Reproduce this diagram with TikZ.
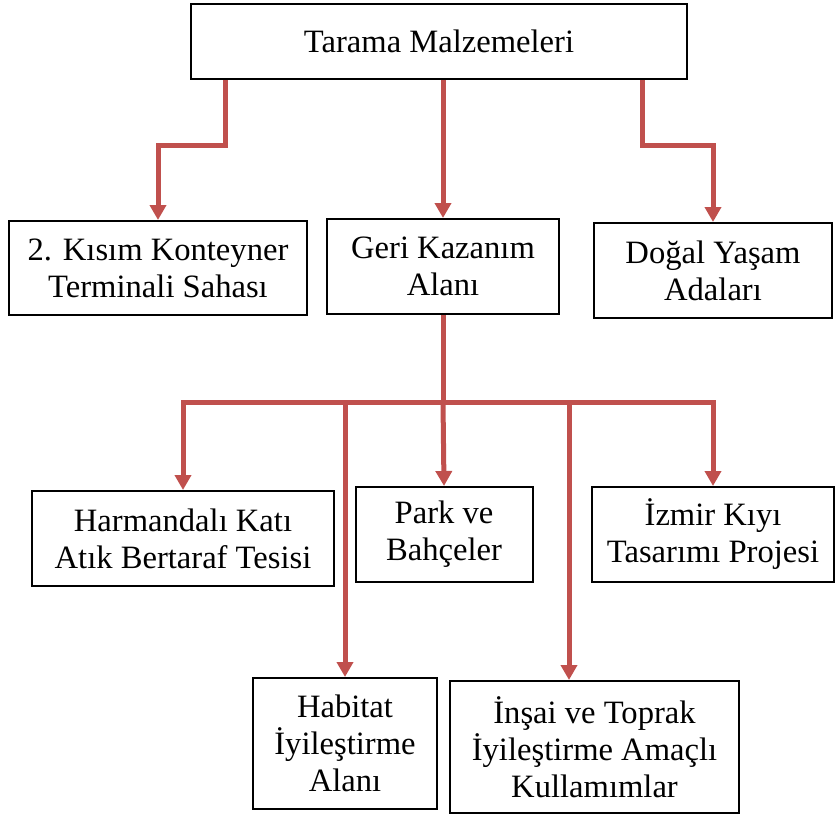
\documentclass[tikz,border=0pt]{standalone}
\usepackage{fontspec}
\setmainfont{Liberation Serif}
\usepackage{tikz}
\usetikzlibrary{arrows.meta}
\definecolor{barrow}{HTML}{C0504D}
\tikzset{
	kutu/.style={draw=black,line width=1pt,rectangle,align=center,inner sep=0pt,
		font=\fontsize{16.3}{18.5}\selectfont},
	ok/.style={draw=barrow,line width=2.5pt,-{Triangle[width=8pt,length=7.5pt]}},
	hat/.style={draw=barrow,line width=2.5pt}
}
\begin{document}
\begin{tikzpicture}[x=0.5pt,y=-0.5pt]
	\useasboundingbox (0,0) rectangle (835,814);
	\node[kutu,minimum width=248pt,minimum height=37.5pt] (T) at (439,41.5) {Tarama Malzemeleri};
	\node[kutu,minimum width=149pt,minimum height=47pt] (K) at (158,268) {2. Kısım Konteyner\\Terminali Sahası};
	\node[kutu,minimum width=116pt,minimum height=47.5pt] (G) at (443,266.5) {Geri Kazanım\\Alanı};
	\node[kutu,minimum width=119pt,minimum height=47.5pt] (D) at (713,270.5) {Doğal Yaşam\\Adaları};
	\node[kutu,minimum width=151pt,minimum height=47.5pt] (H) at (183,538.5) {Harmandalı Katı\\Atık Bertaraf Tesisi};
	\node[kutu,minimum width=88.5pt,minimum height=47.5pt] (P) at (444,534.5) {Park ve\\Bahçeler};
	\node[kutu,minimum width=121pt,minimum height=47.5pt] (Z) at (713,534.5) {İzmir Kıyı\\Tasarımı Projesi};
	\node[kutu,minimum width=92pt,minimum height=65.5pt] (B) at (345,743.5) {Habitat\\İyileştirme\\Alanı};
	\node[kutu,minimum width=144.5pt,minimum height=66pt] (S) at (594.5,747) {İnşai ve Toprak\\İyileştirme Amaçlı\\Kullamımlar};
	\coordinate (k1) at (225,145);
	\coordinate (k2) at (642,145);
	\coordinate (bus) at (443,402);
	\coordinate (s1) at (569,0);
	\draw[ok] (T.south -| k1) -- (k1) -| (K.north);
	\draw[ok] (T.south -| G.north) -- (G.north);
	\draw[ok] (T.south -| k2) -- (k2) -| (D.north);
	\draw[hat] (G.south) -- (bus);
	\draw[ok] (bus) -| (H.north);
	\draw[ok] (bus) -| (Z.north);
	\draw[ok] (bus) -- (P.north);
	\draw[ok] (bus) -| (B.north);
	\draw[ok] (bus) -| (S.north -| s1);
\end{tikzpicture}
\end{document}
